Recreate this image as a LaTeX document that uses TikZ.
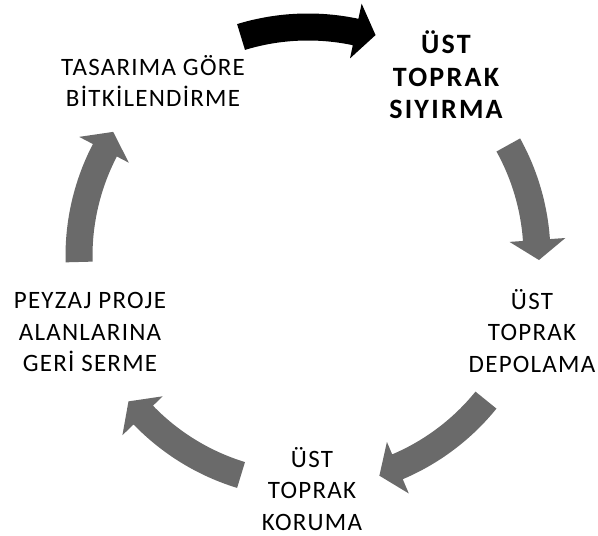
\documentclass[tikz,border=0pt]{standalone}
\usepackage{fontspec}
\setmainfont{Carlito}
\newfontfamily\labfont[LetterSpace=5]{Carlito}
\newfontfamily\boldlabfont[LetterSpace=8]{Carlito}
\usetikzlibrary{calc}
\definecolor{arrowgray}{RGB}{106,106,106}
\tikzset{
  lab/.style={align=center, inner sep=0pt, font=\labfont\fontsize{25}{31.5}\selectfont, text=black},
  boldlab/.style={align=center, inner sep=0pt, font=\boldlabfont\bfseries\fontsize{28}{32.5}\selectfont, text=black}
}
% #1 tail angle, #2 head base angle, #3 tip angle, #4 colour
\newcommand{\cycarrow}[4]{%
  \fill[#4] ($(C)+(#1:242.5)$) arc[start angle=#1, end angle=#2, radius=242.5]
    -- ($(C)+(#2:258)$) -- ($(C)+(#3:231)$) -- ($(C)+(#2:202)$)
    -- ($(C)+(#2:215.5)$) arc[start angle=#2, end angle=#1, radius=215.5] -- cycle;}
\begin{document}
\begin{tikzpicture}[x=1pt,y=1pt]
\useasboundingbox (0,0) rectangle (598,536);
\coordinate (C) at (308,280);
\cycarrow{107}{78}{73}{black}
\cycarrow{29}{4}{-1}{arrowgray}
\cycarrow{-39}{-67}{-72}{arrowgray}
\cycarrow{-107}{-136}{-141}{arrowgray}
\cycarrow{181.5}{152.5}{147.5}{arrowgray}
\node[boldlab] (strip) at (446,461) {ÜST\\TOPRAK\\SIYIRMA};
\node[lab] (plant) at (153,455) {TASARIMA GÖRE\\BİTKİLENDİRME};
\node[lab] (store) at (532,205) {ÜST\\TOPRAK\\DEPOLAMA};
\node[lab] (protect) at (312,47) {ÜST\\TOPRAK\\KORUMA};
\node[lab] (spread) at (90,204) {PEYZAJ PROJE\\ALANLARINA\\GERİ SERME};
\end{tikzpicture}
\end{document}
